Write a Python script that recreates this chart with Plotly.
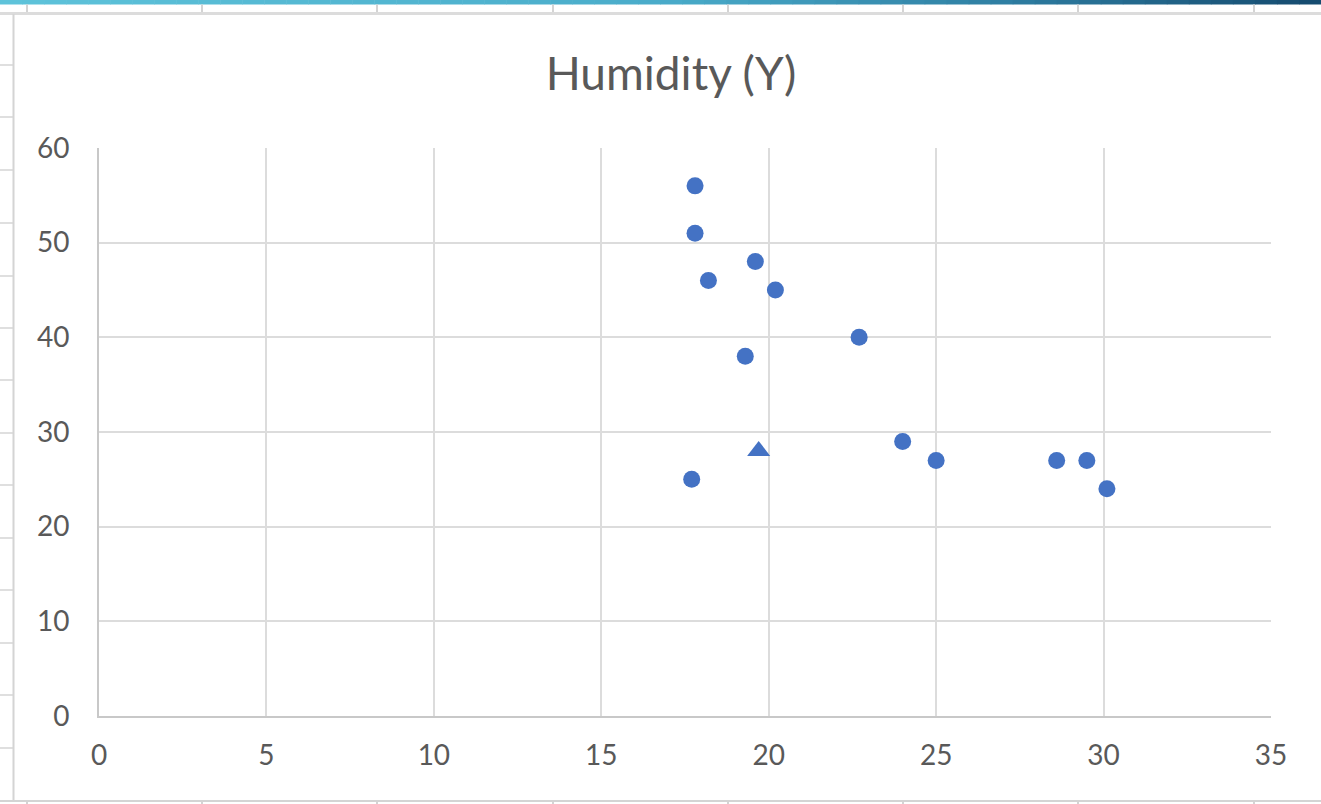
import plotly.graph_objects as go

# Data
temp_x = [17.8, 17.8, 18.2, 19.6, 20.2, 19.3, 22.7, 17.7, 24.0, 25.0, 28.6, 29.5, 30.1]
humidity_y = [56, 51, 46, 48, 45, 38, 40, 25, 29, 27, 27, 27, 24]
pred_x = [19.7]
pred_y = [28]

W, H = 1321, 804
L, R, T, B = 99, 1271, 148, 716

def px(x):
    return (x - L) / (R - L)

def py(y):
    return (B - y) / (B - T)

fig = go.Figure()
fig.add_trace(go.Scatter(x=temp_x, y=humidity_y, mode="markers",
                         marker=dict(symbol="circle", size=17, color="#4472C4"),
                         showlegend=False, cliponaxis=False))
fig.add_trace(go.Scatter(x=pred_x, y=pred_y, mode="markers",
                         marker=dict(symbol="triangle-up", size=20, color="#4472C4"),
                         showlegend=False, cliponaxis=False))

shapes = []
# gradient bar on top (spreadsheet ribbon)
stops = [(0, (94, 195, 218)), (660, (74, 172, 202)), (1000, (47, 127, 163)), (1321, (21, 74, 110))]
def col(x):
    for (x0, c0), (x1, c1) in zip(stops[:-1], stops[1:]):
        if x0 <= x <= x1:
            t = (x - x0) / (x1 - x0)
            return "rgb(%d,%d,%d)" % tuple(round(a + (b - a) * t) for a, b in zip(c0, c1))
    return "rgb(21,74,110)"
N = 60
for i in range(N):
    x0 = W * i / N
    x1 = W * (i + 1) / N
    shapes.append(dict(type="rect", xref="paper", yref="paper", x0=px(x0), x1=px(x1 + 0.5),
                       y0=py(4.5), y1=py(0), line=dict(width=0), fillcolor=col((x0 + x1) / 2), layer="above"))
# header gray band
shapes.append(dict(type="rect", xref="paper", yref="paper", x0=px(0), x1=px(W), y0=py(15), y1=py(12),
                   line=dict(width=0), fillcolor="#dcdcdc"))
# column separators
for cx in [27, 202, 377, 553, 728, 903, 1078, 1254]:
    shapes.append(dict(type="line", xref="paper", yref="paper", x0=px(cx), x1=px(cx), y0=py(12), y1=py(4.5),
                       line=dict(color="#d4d4d4", width=2)))
    shapes.append(dict(type="line", xref="paper", yref="paper", x0=px(cx), x1=px(cx), y0=py(H), y1=py(802),
                       line=dict(color="#d4d4d4", width=2)))
# chart left border
shapes.append(dict(type="line", xref="paper", yref="paper", x0=px(13.5), x1=px(13.5), y0=py(801), y1=py(14),
                   line=dict(color="#d4d4d4", width=2)))
# bottom border
shapes.append(dict(type="line", xref="paper", yref="paper", x0=px(0), x1=px(W), y0=py(801), y1=py(801),
                   line=dict(color="#d4d4d4", width=2)))
# row separators on the left
for ry in [65, 117, 170, 223, 276, 328, 380, 433, 485, 538, 590, 643, 695, 748]:
    shapes.append(dict(type="line", xref="paper", yref="paper", x0=px(0), x1=px(13), y0=py(ry), y1=py(ry),
                       line=dict(color="#d4d4d4", width=1.5)))

fig.update_layout(
    width=W, height=H,
    margin=dict(l=L, r=W - R, t=T, b=H - B, autoexpand=False),
    paper_bgcolor="white", plot_bgcolor="white",
    title=dict(text="Humidity (Y)", x=671 / W, xref="container", xanchor="center",
               y=1 - 74 / H, yref="container", yanchor="middle",
               font=dict(family="Lato", size=46, color="#595959")),
    xaxis=dict(range=[0, 35], dtick=5, tick0=0, showgrid=True, gridcolor="#dcdcdc", gridwidth=2,
               zeroline=False, showline=True, linecolor="#c8c8c8", linewidth=2,
               tickfont=dict(family="Lato", size=28, color="#595959"), ticks="", ticklabelstandoff=13,
               fixedrange=True),
    yaxis=dict(range=[0, 60], dtick=10, tick0=0, showgrid=True, gridcolor="#dcdcdc", gridwidth=2,
               zeroline=False, showline=True, linecolor="#c8c8c8", linewidth=2,
               tickfont=dict(family="Lato", size=28, color="#595959"), ticks="", ticklabelstandoff=22,
               fixedrange=True),
    shapes=shapes,
)

fig.write_html("out.html", config={"displayModeBar": False},
               post_script="document.body.style.margin='0';document.body.style.overflow='hidden';")
